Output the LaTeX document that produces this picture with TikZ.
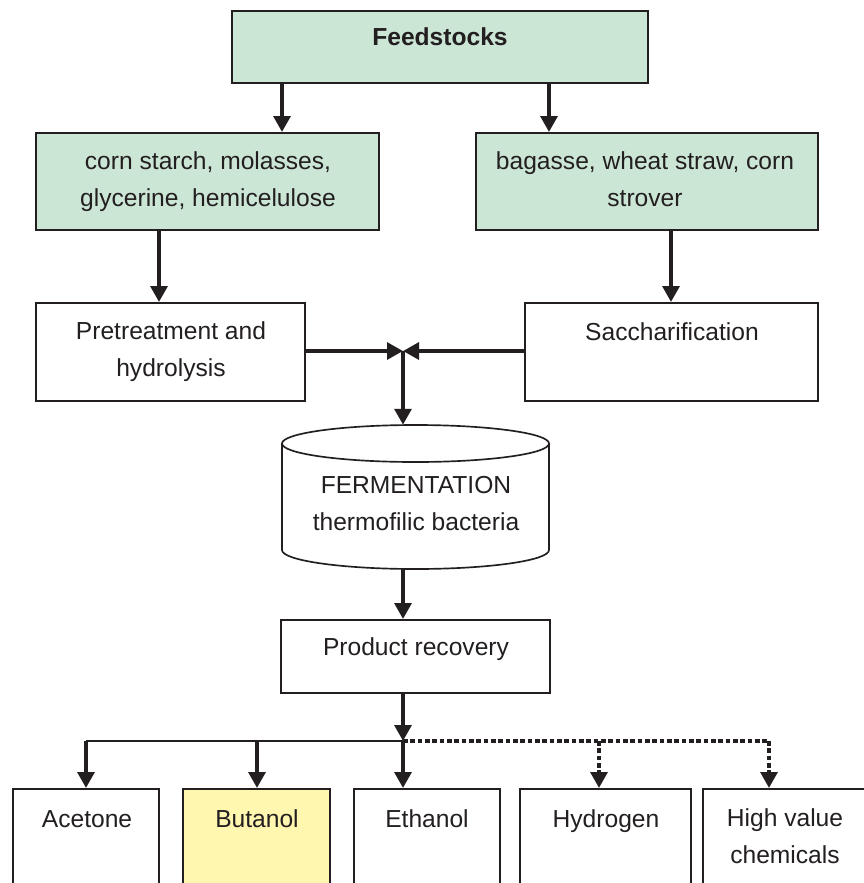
\documentclass[tikz,border=0pt]{standalone}
\usepackage{fontspec}
\setmainfont{Liberation Sans}
\usetikzlibrary{arrows.meta,fit}
\definecolor{ink}{RGB}{35,31,32}
\definecolor{mint}{RGB}{204,230,214}
\definecolor{pale}{RGB}{255,247,176}
\newcommand\fsz{\fontsize{21pt}{31.6pt}\selectfont}
\tikzset{
 box/.style={draw=ink, line width=0.06cm, inner sep=0pt, fill=white},
 gbox/.style={box, fill=mint},
 ybox/.style={box, fill=pale},
 txt/.style={inner sep=0pt, font=\fsz, text=ink, align=center},
 arr/.style={draw=ink, line width=0.125cm, -{Triangle[length=0.48cm,width=0.5cm]}},
 thinline/.style={draw=ink, line width=0.045cm},
 dotline/.style={draw=ink, line width=0.125cm, dash pattern=on 0.14cm off 0.08cm},
 dotarr/.style={dotline, -{Triangle[length=0.48cm,width=0.5cm]}},
 cyl/.style={draw=ink, line width=0.05cm},
}
\begin{document}
\begin{tikzpicture}[x=0.03cm,y=-0.03cm]
\clip (0,0) rectangle (864,883);
\fill[white] (0,0) rectangle (864,883);

% boxes
\node[gbox, fit={(232,11)(648,83)}] (feed) {};
\node[gbox, fit={(36,133)(379,230)}] (g1) {};
\node[gbox, fit={(476,133)(818,230)}] (g2) {};
\node[box, fit={(36,303)(305,401)}] (pre) {};
\node[box, fit={(525,303)(818,401)}] (sac) {};
\node[inner sep=0pt, fit={(282,425)(549,569)}] (ferm) {};
\fill[white] (282,443.5) -- (282,550) arc[start angle=180, end angle=360, x radius=4.005cm, y radius=0.57cm] -- (549,443.5) -- cycle;
\draw[cyl] (282,443.5) -- (282,550) arc[start angle=180, end angle=360, x radius=4.005cm, y radius=0.57cm] -- (549,443.5);
\draw[cyl, fill=white] (415.5,443.5) ellipse [x radius=4.005cm, y radius=0.555cm];
\node[box, fit={(281,620)(550,693)}] (prod) {};
\node[box, fit={(13,789)(159,900)}] (ace) {};
\node[ybox, fit={(183,789)(330,900)}] (but) {};
\node[box, fit={(354,789)(500,900)}] (eth) {};
\node[box, fit={(520,789)(691,900)}] (hyd) {};
\node[box, fit={(703,789)(868,900)}] (hvc) {};

% texts
\node[txt] (feedt) at (440,37.6) {\bfseries Feedstocks\strut};
\node[txt] (g1t) at (208,181) {corn starch, molasses,\strut\\glycerine, hemicelulose\strut};
\node[txt] (g2t) at (645,181) {bagasse, wheat straw, corn\strut\\strover\strut};
\node[txt] (pret) at (171,351) {Pretreatment and\strut\\hydrolysis\strut};
\node[txt] (sact) at (672,332.6) {Saccharification\strut};
\node[txt] (fermt) at (416,505) {FERMENTATION\strut\\thermofilic bacteria\strut};
\node[txt] (prodt) at (416,647.6) {Product recovery\strut};
\node[txt] (acet) at (87,819.6) {Acetone\strut};
\node[txt] (butt) at (257,819.6) {Butanol\strut};
\node[txt] (etht) at (427,819.6) {Ethanol\strut};
\node[txt] (hydt) at (606,819.6) {Hydrogen\strut};
\node[txt] (hvct) at (785,838) {High value\strut\\chemicals\strut};

% connector coordinates
\coordinate (f1) at (282,0);
\coordinate (f2) at (549,0);
\coordinate (d1) at (159,0);
\coordinate (d2) at (671,0);
\coordinate (j) at (403,351);
\coordinate (k) at (403,741);
\coordinate (a1) at (86,741);
\coordinate (a2) at (257,741);
\coordinate (a4) at (599,741);
\coordinate (a5) at (769,741);

% connectors
\draw[arr] (feed.south -| f1) -- (g1.north -| f1);
\draw[arr] (feed.south -| f2) -- (g2.north -| f2);
\draw[arr] (g1.south -| d1) -- (pre.north -| d1);
\draw[arr] (g2.south -| d2) -- (sac.north -| d2);
\draw[arr] (pre.east |- j) -- (j);
\draw[arr] (sac.west |- j) -- (j);
\draw[arr] (j) -- (ferm.north -| j);
\draw[arr] (ferm.south -| j) -- (prod.north -| j);
\draw[arr] (prod.south -| k) -- (k);
\draw[thinline] (a1) -- (k);
\draw[dotline] (k) -- (a5);
\draw[arr] (a1) -- (ace.north -| a1);
\draw[arr] (a2) -- (but.north -| a2);
\draw[arr] (k) -- (eth.north -| k);
\draw[dotarr] (a4) -- (hyd.north -| a4);
\draw[dotarr] (a5) -- (hvc.north -| a5);
\end{tikzpicture}
\end{document}
